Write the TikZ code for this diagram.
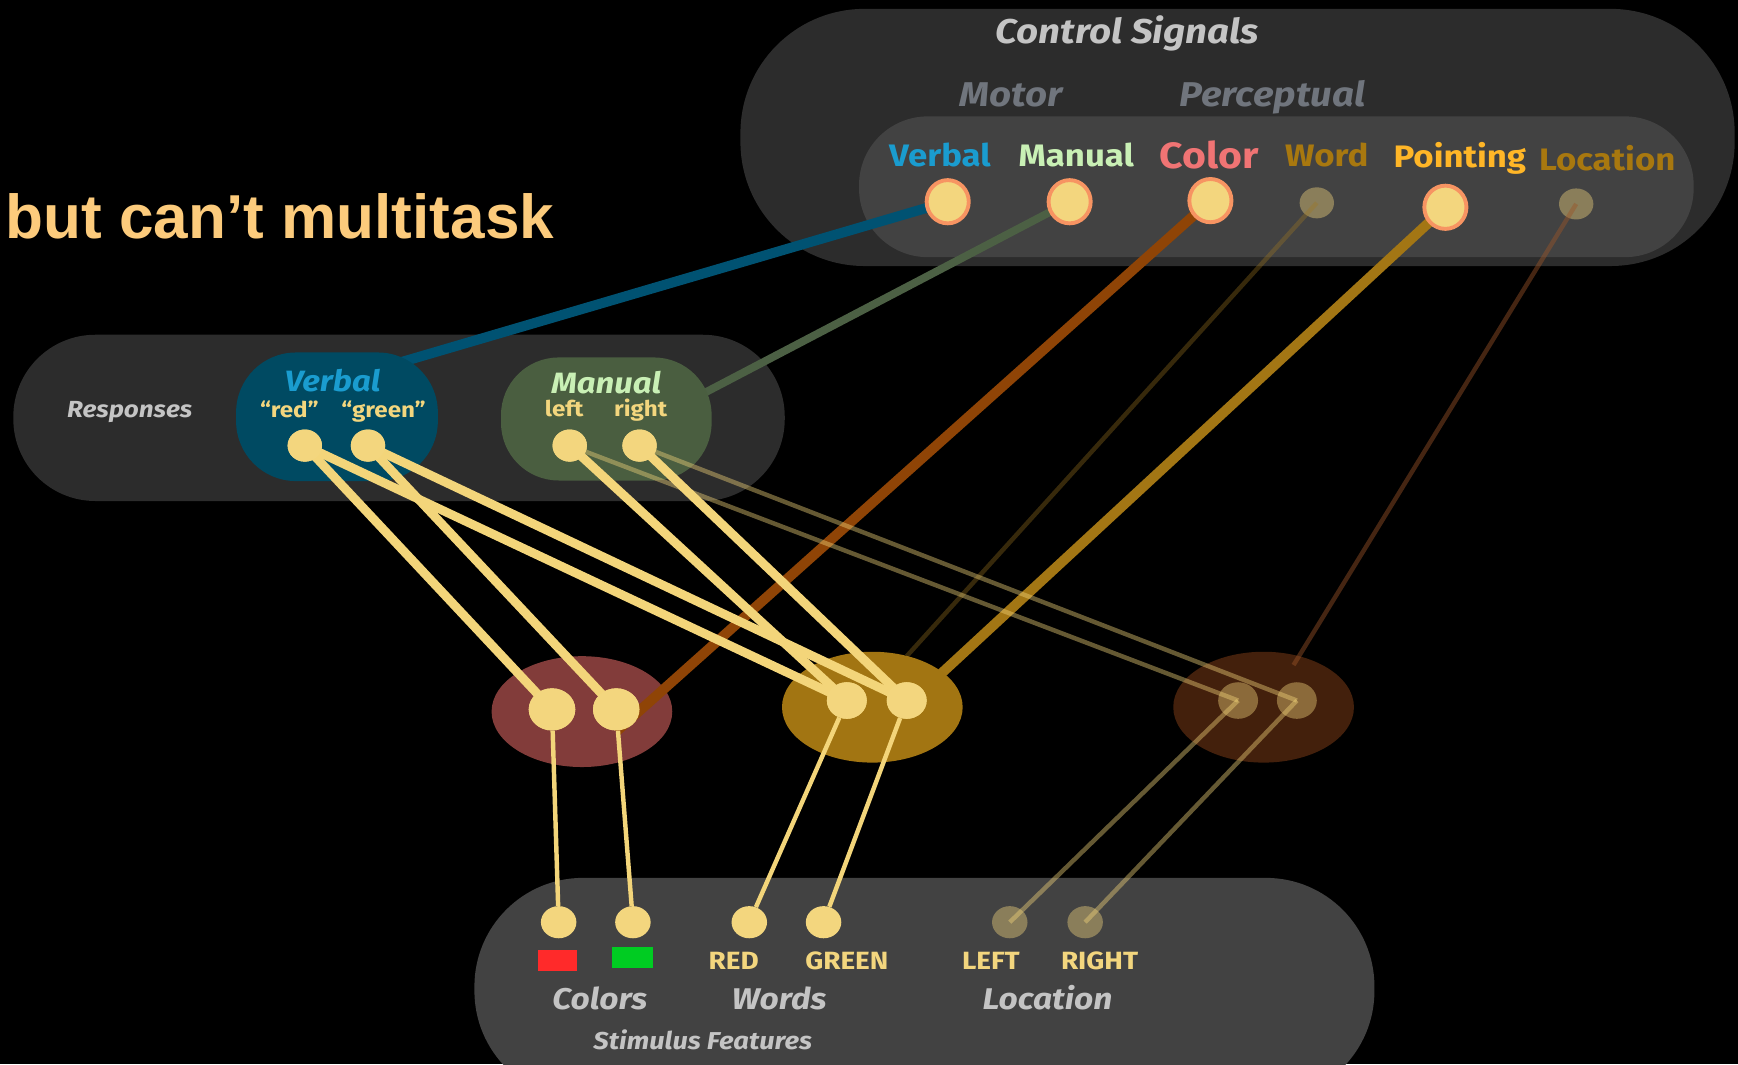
\documentclass[tikz,border=0pt]{standalone}
\usepackage{fontspec}
\usetikzlibrary{shapes.geometric}
\newfontfamily\labelfont[FakeStretch=1.12]{Fira Sans}
\newfontfamily\headfont{Liberation Sans}

\definecolor{panelDark}{HTML}{2C2C2C}
\definecolor{panelMid}{HTML}{424242}
\definecolor{dotY}{HTML}{F3D67E}
\definecolor{ringO}{HTML}{F79462}
\definecolor{lineY}{HTML}{F3D57A}
\definecolor{verbBlue}{HTML}{1A9CCF}
\definecolor{verbBlob}{HTML}{004A62}
\definecolor{verbLine}{HTML}{005272}
\definecolor{manGreen}{HTML}{C9F0B5}
\definecolor{manBlob}{HTML}{4A5E40}
\definecolor{manLine}{HTML}{4C6044}
\definecolor{colRed}{HTML}{F07474}
\definecolor{colBlob}{HTML}{823C3A}
\definecolor{colLine}{HTML}{8F4406}
\definecolor{wordGold}{HTML}{A8780F}
\definecolor{wordBlob}{HTML}{A27512}
\definecolor{wordLine}{HTML}{A07820}
\definecolor{pointOr}{HTML}{FFB627}
\definecolor{pointLine}{HTML}{A37614}
\definecolor{locBlob}{HTML}{43200C}
\definecolor{locLine}{HTML}{9A5428}
\definecolor{labelGray}{HTML}{C4C4C4}
\definecolor{groupGray}{HTML}{70757D}
\definecolor{titleY}{HTML}{FCCB7C}
\definecolor{sqRedC}{HTML}{FF2A2A}
\definecolor{sqGreenC}{HTML}{00CC22}

\tikzset{
  dot/.style={ellipse, inner sep=0pt, fill=dotY, draw=none},
  ctrlDot/.style={dot, draw=ringO, line width=3.5pt, minimum width=38pt, minimum height=39pt},
  ctrlDim/.style={dot, fill opacity=0.41, minimum width=31pt, minimum height=28pt},
  resDot/.style={dot, minimum width=31pt, minimum height=29pt},
  colDot/.style={dot, minimum width=42pt, minimum height=38pt},
  wordDot/.style={dot, minimum width=36pt, minimum height=33pt},
  locDot/.style={dot, fill opacity=0.41, minimum width=36pt, minimum height=33pt},
  stimDot/.style={dot, minimum width=32pt, minimum height=29pt},
  stimDim/.style={dot, fill opacity=0.41, minimum width=32pt, minimum height=29pt},
  blob/.style={ellipse, inner sep=0pt, minimum width=163pt, minimum height=100pt},
  txt/.style={inner sep=0pt, anchor=base},
  groupHead/.style={txt, font=\labelfont\bfseries\itshape\fontsize{31}{36}\selectfont},
  ctrlLabel/.style={txt, font=\labelfont\bfseries\fontsize{28}{32}\selectfont},
  respHead/.style={txt, font=\labelfont\bfseries\itshape\fontsize{26.5}{32}\selectfont},
  respLabel/.style={txt, text=dotY, font=\labelfont\bfseries\fontsize{19.5}{22}\selectfont},
  stimLabel/.style={txt, text=dotY, font=\labelfont\bfseries\fontsize{22.5}{26}\selectfont},
  stimHead/.style={txt, text=labelGray, font=\labelfont\bfseries\itshape\fontsize{27}{31}\selectfont},
  feed/.style={lineY, line width=8pt},
  drop/.style={lineY, line width=4pt},
  faint/.style={lineY, line width=4pt, draw opacity=0.42},
}

\begin{document}
\begin{tikzpicture}[x=1pt,y=-1pt]
\fill[black] (0,0) rectangle (1568,960);
\useasboundingbox (0,0) rectangle (1568,960);

% group panels
\fill[panelDark, rounded corners=112pt] (668,8) rectangle (1565,240);
\fill[panelMid, rounded corners=62pt] (775,105) rectangle (1528,232);
\fill[panelDark, rounded corners=74pt] (12,302) rectangle (708,452);
\fill[panelMid, rounded corners=98pt] (428,792) rectangle (1240,992);

% headline
\node[anchor=base west, inner sep=0pt, text=titleY,
      font=\headfont\bfseries\fontsize{56}{60}\selectfont] (title) at (5,215) {but can’t multitask};

% control signal layer
\node[groupHead, text=labelGray] (hCtrl) at (1017,39) {Control Signals};
\node[groupHead, text=groupGray] (hMotor) at (912,96) {Motor};
\node[groupHead, text=groupGray] (hPerc) at (1148,96) {Perceptual};

\node[ctrlLabel, text=verbBlue] (lVerbal) at (848,150) {Verbal};
\node[ctrlLabel, text=manGreen] (lManual) at (971,150) {Manual};
\node[ctrlLabel, text=colRed, font=\labelfont\bfseries\fontsize{33}{36}\selectfont] (lColor) at (1091,152) {Color};
\node[ctrlLabel, text=wordGold] (lWord) at (1197,150) {Word};
\node[ctrlLabel, text=pointOr] (lPoint) at (1317,151) {Pointing};
\node[ctrlLabel, text=wordGold] (lLoc) at (1450,154) {Location};

\coordinate (cVerbalPos) at (855,182);
\coordinate (cManualPos) at (965,182);
\coordinate (cColorPos) at (1092,181);
\coordinate (cWordPos) at (1188,183);
\coordinate (cPointPos) at (1304,187);
\coordinate (cLocPos) at (1422,184);

% response layer labels
\node[txt, text=labelGray, font=\labelfont\bfseries\itshape\fontsize{21}{25}\selectfont] (hResp) at (117,377) {Responses};

% ends of the control lines
\coordinate (vIn) at (303,344);
\coordinate (mIn) at (560,394);
\coordinate (wEnd) at (818,592);
\coordinate (pIn) at (838,618);
\coordinate (lEnd) at (1167,600);

% motor control lines run beneath the response groups
\draw[verbLine, line width=9pt] (cVerbalPos) -- (vIn);
\draw[manLine, line width=7pt] (cManualPos) -- (mIn);

\node[fill=verbBlob, rounded corners=54pt, minimum width=182pt, minimum height=116pt, inner sep=0pt] (rVerbal) at (304,376) {};
\node[fill=manBlob, rounded corners=52pt, minimum width=190pt, minimum height=111pt, inner sep=0pt] (rManual) at (547,378) {};

\node[respHead, text=verbBlue] (lrVerbal) at (300,353) {Verbal};
\node[respHead, text=manGreen] (lrManual) at (547,355) {Manual};
\node[respLabel] (lRed) at (261,377) {“red”};
\node[respLabel] (lGreen) at (346,377) {“green”};
\node[respLabel] (lLeft) at (509,376) {left};
\node[respLabel] (lRight) at (578,376) {right};

% pointing line passes beneath the word group
\draw[pointLine, line width=9pt] (cPointPos) -- (pIn);

% hidden layer groups
\node[blob, fill=colBlob] (eColor) at (525,642) {};
\node[blob, fill=wordBlob] (eWord) at (787,638) {};
\node[blob, fill=locBlob] (eLoc) at (1140,638) {};

% control units
\node[ctrlDot] (cVerbal) at (cVerbalPos) {};
\node[ctrlDot] (cManual) at (cManualPos) {};
\node[ctrlDot] (cPoint) at (cPointPos) {};
\node[ctrlDim] (cWord) at (cWordPos) {};
\node[ctrlDim] (cLoc) at (cLocPos) {};

% hidden units
\node[colDot] (mC1) at (498,640) {};
\node[colDot] (mC2) at (556,640) {};
\node[wordDot] (mW1) at (764,632) {};
\node[wordDot] (mW2) at (818,632) {};
\node[locDot] (mL1) at (1117,632) {};
\node[locDot] (mL2) at (1170,632) {};

% colour control line, drawn over its group
\draw[colLine, line width=9pt] (cColorPos) -- ([yshift=-20pt]mC2.center);
\node[ctrlDot] (cColor) at (cColorPos) {};

% perceptual control lines for word and location
\draw[wordLine, line width=4pt, draw opacity=0.35] (cWord.center) -- (wEnd);
\draw[locLine, line width=4pt, draw opacity=0.45] (cLoc.center) -- (lEnd);

% response units
\node[resDot] (rRed) at (275,402) {};
\node[resDot] (rGreen) at (332,402) {};
\node[resDot] (rLeft) at (514,402) {};
\node[resDot] (rRight) at (577,402) {};

% hidden to response weights
\draw[feed] (rRed.center) -- (mC1.center);
\draw[feed] (rRed.center) -- (mW1.center);
\draw[feed] (rGreen.center) -- (mC2.center);
\draw[feed] (rGreen.center) -- (mW2.center);
\draw[feed] (rLeft.center) -- (mW1.center);
\draw[feed] (rRight.center) -- (mW2.center);
\draw[faint] (rLeft.center) -- (mL1.center);
\draw[faint] (rRight.center) -- (mL2.center);

% redraw unit faces over the weight ends
\node[resDot] at (275,402) {};
\node[resDot] at (332,402) {};
\node[resDot] at (514,402) {};
\node[resDot] at (577,402) {};
\node[colDot] at (498,640) {};
\node[colDot] at (556,640) {};
\node[wordDot] at (764,632) {};
\node[wordDot] at (818,632) {};

% stimulus layer
\node[stimDot] (sC1) at (504,832) {};
\node[stimDot] (sC2) at (571,832) {};
\node[stimDot] (sW1) at (676,832) {};
\node[stimDot] (sW2) at (743,832) {};
\node[stimDim] (sL1) at (911,832) {};
\node[stimDim] (sL2) at (979,832) {};

\draw[drop] (mC1) -- (sC1);
\draw[drop] (mC2) -- (sC2);
\draw[drop] (mW1) -- (sW1);
\draw[drop] (mW2) -- (sW2);
\draw[faint] (mL1.center) -- (sL1.center);
\draw[faint] (mL2.center) -- (sL2.center);

\node[fill=sqRedC, minimum width=36pt, minimum height=19pt, inner sep=0pt] (sqRed) at (503,866.5) {};
\node[fill=sqGreenC, minimum width=37pt, minimum height=19pt, inner sep=0pt] (sqGreen) at (570.5,863.5) {};

\node[stimLabel] (tRED) at (662,875) {RED};
\node[stimLabel] (tGREEN) at (764,875) {GREEN};
\node[stimLabel] (tLEFT) at (894,875) {LEFT};
\node[stimLabel] (tRIGHT) at (992,875) {RIGHT};

\node[stimHead] (hColors) at (541,911) {Colors};
\node[stimHead] (hWords) at (703,911) {Words};
\node[stimHead] (hLocation) at (945,911) {Location};
\node[txt, text=labelGray, font=\labelfont\bfseries\itshape\fontsize{22}{25}\selectfont] (hStim) at (634,947) {Stimulus Features};
\end{tikzpicture}
\end{document}
